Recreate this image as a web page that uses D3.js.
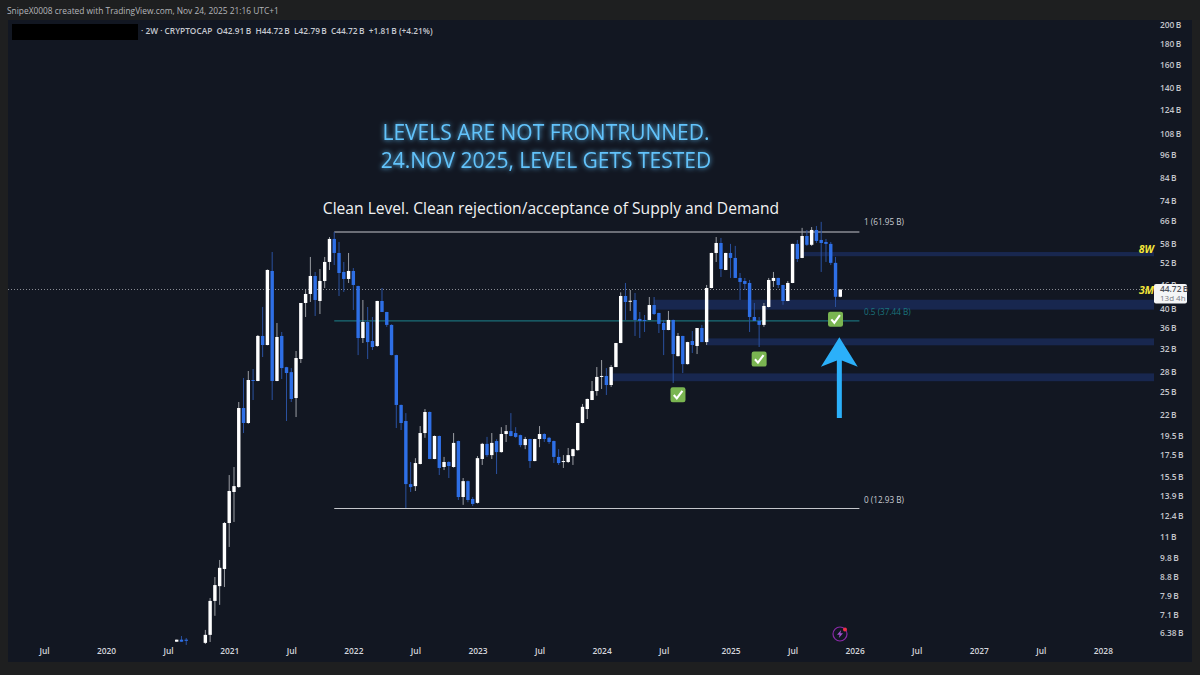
<!DOCTYPE html>
<html><head><meta charset="utf-8">
<script src="https://cdn.jsdelivr.net/npm/d3@7/dist/d3.min.js"></script>
<style>html,body{margin:0;padding:0;background:#1e1f20;overflow:hidden}svg{display:block}text{font-family:"Open Sans",sans-serif}</style>
</head><body><svg id="c" width="1200" height="675"></svg>
<script>
// Two-week candles, in billions (oldest first)
const opens=[6.08,6.15,6.15,5.85,5.75,5.8,6.04,6.32,7.66,8.33,9.18,11.91,14.2,14.6,22.85,20.99,26.78,26.63,34.37,32.65,49.67,26.63,34.37,28.8,28.0,24.18,30.16,41.43,43.6,48.28,41.9,46.93,52.27,59.55,55.0,49.39,47.47,49.67,45.6,33.97,37.2,33.4,32.47,41.9,39.37,36.59,30.84,23.25,21.23,14.85,14.68,16.64,19.83,22.34,17.12,19.5,16.36,16.83,16.36,18.95,13.8,15.1,13.65,13.35,17.12,18.65,17.5,18.95,17.8,19.72,20.05,19.83,19.6,18.52,19.17,16.92,19.17,19.72,19.3,18.95,17.32,16.83,16.83,17.4,18.0,20.99,22.72,23.91,25.16,27.25,27.4,26.03,28.82,33.02,43.1,41.85,42.14,37.85,37.63,37.63,40.95,39.15,36.99,35.55,37.63,30.66,34.37,29.3,33.4,32.47,35.95,33.2,45.1,55.0,58.2,49.95,55.0,53.47,47.74,46.93,46.4,38.27,37.42,36.59,40.5,46.93,47.74,45.88,41.9,46.4,57.9,53.47,60.55,57.6,62.66,59.21,58.54,57.9,52.0,42.91];
const highs=[6.15,6.28,6.21,5.9,5.85,5.93,6.5,7.79,8.77,9.66,11.98,15.63,16.36,23.64,27.09,28.18,28.5,34.56,40.51,50.1,55.3,36.99,35.15,28.85,28.65,31.56,41.4,44.85,53.77,49.39,50.23,53.77,60.2,61.95,58.54,52.27,55.0,50.5,45.7,42.14,40.5,38.27,41.95,45.1,39.4,36.7,30.9,23.3,22.2,16.83,17.2,20.63,22.72,22.4,19.55,19.55,17.32,16.9,19.83,19.0,15.37,15.15,13.8,17.4,18.75,19.4,19.83,19.15,20.5,20.75,22.2,20.5,19.65,19.4,19.2,19.2,20.63,19.8,19.4,19.0,18.1,17.5,18.22,18.15,21.0,23.38,24.1,26.63,28.82,29.99,28.65,29.15,33.05,44.0,46.4,44.6,43.85,39.37,38.7,42.86,42.86,39.2,37.63,39.6,37.7,34.95,34.4,33.25,35.35,35.95,36.59,45.88,55.05,60.2,59.9,55.05,57.9,57.25,49.1,47.74,47.2,41.43,38.27,41.43,47.74,49.39,47.8,45.9,46.93,57.95,59.21,63.4,62.66,63.7,64.1,65.6,59.55,58.54,53.77,44.72];
const lows=[6.08,6.08,5.97,5.7,5.65,5.72,6.0,6.07,7.04,7.49,8.29,10.4,11.98,14.55,19.83,20.9,23.91,26.6,30.5,32.6,23.91,26.6,26.93,21.23,23.64,21.71,29.48,38.27,41.66,38.49,38.92,45.1,49.95,51.36,43.1,44.1,46.4,39.82,30.84,33.02,30.16,31.74,32.3,39.37,36.18,30.8,20.4,20.17,12.97,14.2,14.28,16.6,19.3,17.1,17.1,15.63,16.08,15.37,16.3,13.57,13.2,13.4,13.12,13.3,16.55,17.32,17.12,15.72,17.75,18.85,19.45,19.3,18.3,18.1,16.27,16.9,18.3,18.85,18.65,16.73,16.55,16.27,16.73,16.55,17.95,20.95,21.47,23.9,24.5,25.45,24.6,25.75,28.8,33.0,37.63,39.6,34.37,33.97,35.15,37.6,38.7,34.95,30.84,35.5,26.33,30.6,27.86,29.25,31.2,31.02,33.2,32.65,45.0,52.27,48.0,49.9,47.74,47.74,42.14,44.6,35.15,37.4,32.28,36.18,40.4,45.35,45.1,41.0,41.85,46.35,52.27,53.4,57.25,57.25,58.2,49.39,52.27,51.36,40.5,42.79];
const closes=[6.15,6.08,6.11,5.75,5.8,5.9,6.32,7.66,8.38,9.24,11.91,14.28,14.68,22.85,20.99,26.78,26.63,34.37,32.65,49.95,26.63,34.17,28.65,27.86,24.05,30.33,41.43,43.6,48.28,42.14,46.93,52.27,59.55,55.0,49.1,47.47,49.67,45.88,33.97,37.2,33.2,32.28,41.9,39.37,36.59,30.84,23.25,20.99,14.85,14.6,16.73,19.83,22.34,17.12,19.5,16.27,16.83,16.45,18.75,13.8,15.1,13.57,13.27,17.2,18.65,17.5,18.75,17.8,19.72,20.05,19.5,19.4,18.52,19.17,16.92,19.17,19.72,19.17,18.85,17.32,16.73,16.92,17.5,18.1,20.99,23.0,24.05,25.16,27.25,27.4,26.03,28.82,33.02,43.1,41.66,41.95,37.63,37.42,37.42,40.95,38.92,36.8,35.55,37.63,31.02,34.37,29.3,33.2,32.65,35.95,33.2,45.1,55.0,58.2,50.23,55.0,53.47,47.74,46.67,46.15,38.27,37.42,36.59,40.74,47.2,47.74,45.88,41.9,46.4,57.9,53.16,60.55,57.6,62.66,58.88,58.2,57.9,52.0,42.91,44.72];

const priceTicks=[200,180,160,140,124,108,96,84,74,66,58,52,46,40,36,32,28,25,22,19.5,17.5,15.5,13.9,12.4,11,9.8,8.8,7.9,7.1,6.38];
const timeTickBars=[-27.8,-14.8,-1.8,11,24,37,50,63,76,89,102,116,129,142,155,168,181,194];
const timeTickLabels=["Jul","2020","Jul","2021","Jul","2022","Jul","2023","Jul","2024","Jul","2025","Jul","2026","Jul","2027","Jul","2028"];

// Demand/supply zones: [first bar, lower price, upper price]
const zoneBars=[131,100,111,91];
const zoneLows=[54.0,39.9,32.6,26.6];
const zoneHighs=[55.3,42.2,33.9,27.8];
// Fib levels
const fibValues=[61.95,37.44,12.93];
const fibLabels=["1 (61.95 B)","0.5 (37.44 B)","0 (12.93 B)"];
const fibStartBar=33, fibEndBar=143;
const lastPrice=44.72;
// Check marks: bar, price
const checkBars=[105,122,138];
const checkPrices=[24.63,30.15,37.8];
const headline=["LEVELS ARE NOT FRONTRUNNED.","24.NOV 2025, LEVEL GETS TESTED"];
const subtitle="Clean Level. Clean rejection/acceptance of Supply and Demand";
const creditLine="SnipeX0008 created with TradingView.com, Nov 24, 2025 21:16 UTC+1";
const legendLine="\u00b7 2W \u00b7 CRYPTOCAP  O42.91\u2009B  H44.72\u2009B  L42.79\u2009B  C44.72\u2009B  +1.81\u2009B (+4.21%)";

const svg=d3.select("#c");
const x=d3.scaleLinear().domain([0,139]).range([176.7,840.3]);
const y=d3.scaleLog().domain([200,6.38]).range([25.1,633.2]);
const PL=8,PR=1192,PT=20,PB=662,CR=1155,CB=645;

const defs=svg.append("defs");
defs.append("clipPath").attr("id","plot").append("rect").attr("x",PL).attr("y",PT).attr("width",CR-PL).attr("height",CB-PT);
const glow=defs.append("filter").attr("id","glow").attr("x","-10%").attr("y","-50%").attr("width","120%").attr("height","200%");
glow.append("feGaussianBlur").attr("in","SourceGraphic").attr("stdDeviation",2.6).attr("result","b");
const fm=glow.append("feMerge");
fm.append("feMergeNode").attr("in","b");fm.append("feMergeNode").attr("in","SourceGraphic");

svg.append("rect").attr("width",1200).attr("height",675).attr("fill","#1e1f20");
svg.append("rect").attr("x",PL).attr("y",PT).attr("width",PR-PL).attr("height",PB-PT).attr("fill","#121722");

svg.append("text").attr("x",7).attr("y",14).attr("font-size",8.4).attr("fill","#b4b6ba").text(creditLine);
svg.append("rect").attr("x",12).attr("y",24).attr("width",126).attr("height",16).attr("fill","#000");
svg.append("text").attr("x",141).attr("y",34).attr("font-size",8.3).attr("font-weight",600).attr("fill","#c6c9d0").style("white-space","pre").text(legendLine);

const plot=svg.append("g").attr("clip-path","url(#plot)");

// zones
plot.append("g").selectAll("rect").data(zoneBars).join("rect")
 .attr("x",d=>x(d)).attr("width",d=>CR-1-x(d))
 .attr("y",(d,i)=>y(zoneHighs[i])).attr("height",(d,i)=>y(zoneLows[i])-y(zoneHighs[i]))
 .attr("fill","#18274f");

// last price line
plot.append("line").attr("x1",PL).attr("x2",CR).attr("y1",y(lastPrice)).attr("y2",y(lastPrice))
 .attr("stroke","#8b8e96").attr("stroke-width",1).attr("stroke-dasharray","1 2");

// fib lines
const fibColors=["#c4c6cb","#1a6f78","#c4c6cb"];
plot.append("g").selectAll("line").data(fibValues).join("line")
 .attr("x1",x(fibStartBar)).attr("x2",x(fibEndBar))
 .attr("y1",d=>y(d)).attr("y2",d=>y(d))
 .attr("stroke",(d,i)=>fibColors[i]).attr("stroke-width",1.1);
const fibDy=[-10,-9,-9];
svg.append("g").selectAll("text").data(fibValues).join("text")
 .attr("x",864).attr("y",(d,i)=>y(d)+fibDy[i]+3).attr("font-size",8.2).attr("font-weight",500)
 .attr("fill",(d,i)=>i===1?"#1a747d":"#c9ccd2").text((d,i)=>fibLabels[i]);

// candles
const candles=plot.append("g").selectAll("g").data(opens).join("g");
const up=i=>closes[i]>=opens[i];
candles.append("line").attr("x1",(d,i)=>x(i)).attr("x2",(d,i)=>x(i))
 .attr("y1",(d,i)=>y(highs[i])).attr("y2",(d,i)=>y(lows[i]))
 .attr("stroke",(d,i)=>up(i)?"#9b9ea4":"#2a519f").attr("stroke-width",1);
candles.append("rect").attr("x",(d,i)=>x(i)-1.7).attr("width",3.4)
 .attr("y",(d,i)=>y(Math.max(opens[i],closes[i])))
 .attr("height",(d,i)=>Math.max(1,Math.abs(y(opens[i])-y(closes[i]))))
 .attr("fill",(d,i)=>up(i)?"#ffffff":"#2e6fe6");

// axes
const ya=svg.append("g").attr("transform",`translate(${1160-2},0)`)
 .call(d3.axisRight(y).tickValues(priceTicks).tickFormat(d=>d+"\u2009B").tickSize(0).tickPadding(2));
ya.select(".domain").remove();
ya.selectAll("text").attr("font-size",8.4).attr("font-weight",600).attr("fill","#c4c6cc").style("font-family",'"Open Sans",sans-serif');
const xa=svg.append("g").attr("transform",`translate(0,${646})`)
 .call(d3.axisBottom(x).tickValues(timeTickBars).tickFormat((d,i)=>timeTickLabels[i]).tickSize(0).tickPadding(2));
xa.select(".domain").remove();
xa.selectAll("text").attr("font-size",8.4).attr("font-weight",600).attr("fill","#d4d6dc").style("font-family",'"Open Sans",sans-serif');

// price tag
svg.append("rect").attr("x",1154).attr("y",284).attr("width",33).attr("height",19.5).attr("rx",2).attr("fill","#f4f5f6");
svg.append("text").attr("x",1160).attr("y",291.5).attr("font-size",8.4).attr("font-weight",600).attr("fill","#4b4f58").text("44.72\u2009B");
svg.append("text").attr("x",1160).attr("y",300.5).attr("font-size",8).attr("fill","#787b84").text("13d 4h");

// zone timeframe tags
const tagText=["8W","3M"],tagPrices=[56.3,44.6];
svg.append("g").selectAll("text").data(tagText).join("text")
 .attr("x",1154).attr("y",(d,i)=>y(tagPrices[i])+4).attr("text-anchor","end")
 .attr("font-size",10.5).attr("font-weight",700).attr("font-style","italic").attr("fill","#f3e53a").text(d=>d);

// headlines
svg.append("g").selectAll("text").data(headline).join("text")
 .attr("x",546).attr("y",(d,i)=>139.5+i*28).attr("text-anchor","middle").attr("font-size",21)
 .attr("fill","#62c3fb").attr("filter","url(#glow)").text(d=>d);
svg.append("text").attr("x",551).attr("y",214).attr("text-anchor","middle").attr("font-size",15.6).attr("fill","#f1f2f3").text(subtitle);

// checks
const checks=svg.append("g").selectAll("g").data(checkBars).join("g")
 .attr("transform",(d,i)=>`translate(${x(d)},${y(checkPrices[i])})`);
checks.append("rect").attr("x",-7.5).attr("y",-7.5).attr("width",15).attr("height",15).attr("rx",2.2).attr("fill","#7ab551");
checks.append("path").attr("d","M-4.2,0.2 L-1.2,3.6 L4.4,-4").attr("fill","none").attr("stroke","#fff").attr("stroke-width",2.1);

// arrow
const ax=x(138.8);
svg.append("path").attr("fill","#2bb0fa")
 .attr("d",`M${ax},337.3 L${ax+18.4},366.7 L${ax+2.5},360.5 L${ax+2.5},418 L${ax-2.5},418 L${ax-2.5},360.5 L${ax-18.4},366.7 Z`);

// lightning badge
const bolt=svg.append("g").attr("transform","translate(840,634)");
bolt.append("circle").attr("r",7).attr("fill","none").attr("stroke","#8a2aa8").attr("stroke-width",1.2);
bolt.append("path").attr("d","M1.2,-4 L-3,0.8 L-0.4,0.8 L-1.2,4 L3,-0.8 L0.4,-0.8 Z").attr("fill","#a34fd0");
bolt.append("circle").attr("cx",5).attr("cy",-4.6).attr("r",2).attr("fill","#f0304a");
</script></body></html>
